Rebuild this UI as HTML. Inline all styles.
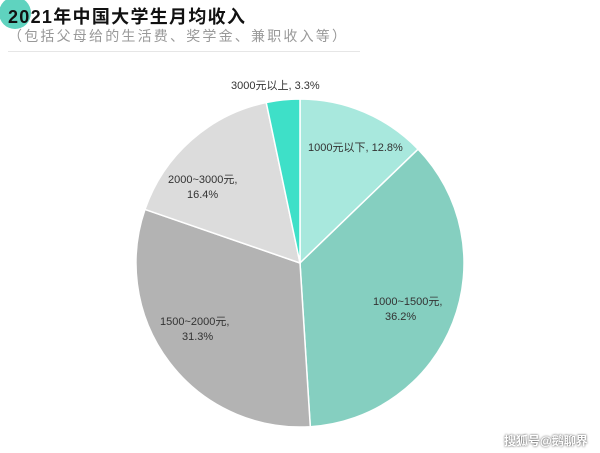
<!DOCTYPE html>
<html><head><meta charset="utf-8"><style>
body{margin:0;width:600px;height:453px;background:#fff;overflow:hidden;position:relative;font-family:"Liberation Sans","Noto Sans CJK SC",sans-serif}
.c{position:absolute;left:-1px;top:-3px;width:32px;height:32px;border-radius:50%;background:#5fd3bf}
.t{position:absolute;left:8px;top:3px;font-size:18px;font-weight:bold;color:#111;letter-spacing:1.3px}
.s{position:absolute;left:8px;top:26px;font-size:14px;color:#999;letter-spacing:2.2px}
.l{position:absolute;left:8px;top:51px;width:352px;height:1px;background:#e6e6e6}
.w{position:absolute;left:504px;top:432px;font-size:12px;color:#fff;text-shadow:0 0 2px #333;font-weight:bold}
</style></head><body>
<div class="c"></div>
<div class="t">2021年中国大学生月均收入</div>
<div class="s">（包括父母给的生活费、奖学金、兼职收入等）</div>
<div class="l"></div>
<svg width="600" height="453" style="position:absolute;left:0;top:0">
<g stroke="#fff" stroke-width="1.5">
<path d="M300,263 L300,99 A164,164 0 0 1 418.1,149.2 Z" fill="#a8e8dd"/>
<path d="M300,263 L418.1,149.2 A164,164 0 0 1 310.3,426.7 Z" fill="#85cfc0"/>
<path d="M300,263 L310.3,426.7 A164,164 0 0 1 145,209.4 Z" fill="#b3b3b3"/>
<path d="M300,263 L145,209.4 A164,164 0 0 1 266.2,102.5 Z" fill="#dcdcdc"/>
<path d="M300,263 L266.2,102.5 A164,164 0 0 1 300,99 Z" fill="#3ee0c8"/>
</g>
<g font-size="11" fill="#333" font-family="Liberation Sans,Noto Sans CJK SC,sans-serif">
<text x="231" y="89">3000元以上, 3.3%</text>
<text x="308" y="151">1000元以下, 12.8%</text>
<text x="373" y="305">1000~1500元,</text>
<text x="385" y="320">36.2%</text>
<text x="160" y="325">1500~2000元,</text>
<text x="182" y="340">31.3%</text>
<text x="168" y="183">2000~3000元,</text>
<text x="187" y="198">16.4%</text>
</g>
</svg>
<div class="w">搜狐号@鹅聊界</div>
</body></html>
